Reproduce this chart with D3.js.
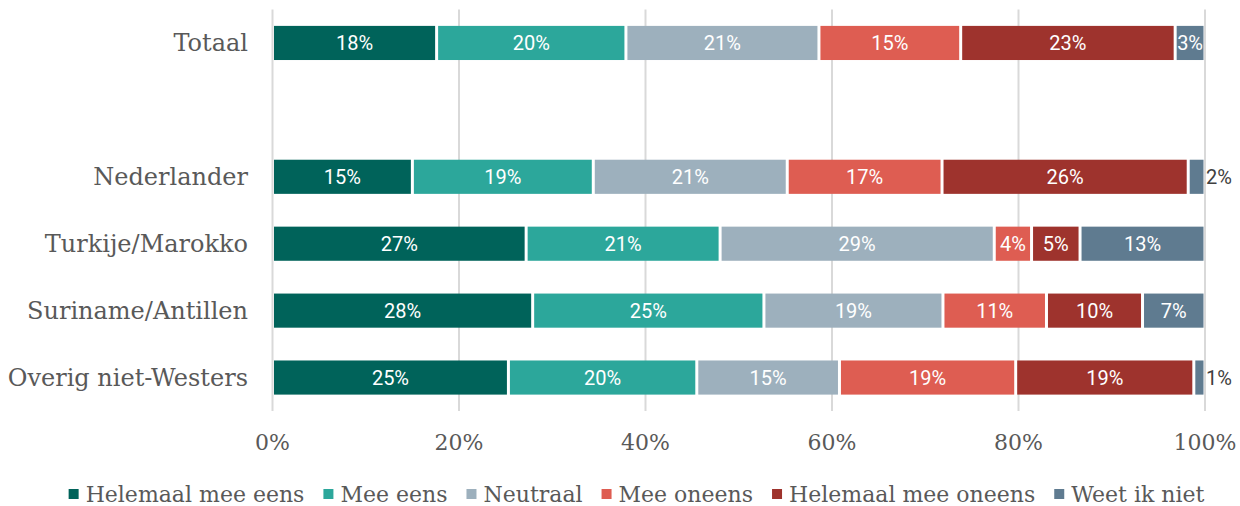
<!DOCTYPE html>
<html>
<head>
<meta charset="utf-8">
<script src="https://cdn.jsdelivr.net/npm/d3@7"></script>
<style>
  body { margin: 0; background: #fff; }
  svg text { fill: #595959; }
</style>
</head>
<body>
<svg id="chart" width="1240" height="506"></svg>
<script>
// data (share of each answer, in %)
var groups = ["Totaal", "", "Nederlander", "Turkije/Marokko", "Suriname/Antillen", "Overig niet-Westers"];
var answers = ["Helemaal mee eens", "Mee eens", "Neutraal", "Mee oneens", "Helemaal mee oneens", "Weet ik niet"];
var colors = ["#00635a", "#2ca79b", "#9db0bd", "#de5d52", "#9e332d", "#5f7b90"];

var totaal      = [17.6, 20.3, 20.7, 15.2, 23.0, 3.2];
var nederlander = [15.0, 19.4, 20.8, 16.6, 26.4, 1.8];
var turkije     = [27.2, 20.8, 29.4, 4.0, 5.2, 13.4];
var suriname    = [27.9, 24.8, 19.2, 11.1, 10.3, 6.7];
var overig      = [25.3, 20.2, 15.3, 18.9, 19.1, 1.2];

var ticks = [0, 20, 40, 60, 80, 100];

var rows = [
  { group: "Totaal", vals: totaal },
  { group: "Nederlander", vals: nederlander },
  { group: "Turkije/Marokko", vals: turkije },
  { group: "Suriname/Antillen", vals: suriname },
  { group: "Overig niet-Westers", vals: overig }
];

var serif = "'DejaVu Serif', serif";
var sans = "Roboto, sans-serif";

var svg = d3.select("#chart");

var x = d3.scaleLinear().domain([0, 100]).range([272.5, 1205]);
var y = d3.scaleBand().domain(groups).range([9.5, 411])
    .paddingInner(0.49).paddingOuter(0.245);

// gridlines
svg.append("g").selectAll("line")
    .data(ticks)
  .enter().append("line")
    .attr("x1", function(d) { return x(d); })
    .attr("x2", function(d) { return x(d); })
    .attr("y1", 9.5)
    .attr("y2", 411)
    .attr("stroke", "#d9d9d9")
    .attr("stroke-width", 2);

// x tick labels
svg.append("g").selectAll("text")
    .data(ticks)
  .enter().append("text")
    .attr("x", function(d) { return x(d); })
    .attr("y", 450)
    .attr("text-anchor", "middle")
    .style("font-family", serif)
    .style("font-size", "22px")
    .text(function(d) { return d + "%"; });

// y labels
svg.append("g").selectAll("text")
    .data(groups.filter(function(d) { return d !== ""; }))
  .enter().append("text")
    .attr("x", 248)
    .attr("y", function(d) { return y(d) + y.bandwidth() / 2; })
    .attr("dy", "0.35em")
    .attr("text-anchor", "end")
    .style("font-family", serif)
    .style("font-size", "24px")
    .text(function(d) { return d; });

// stacked segments
var segs = [];
rows.forEach(function(r) {
  var start = 0;
  r.vals.forEach(function(v, i) {
    segs.push({ group: r.group, i: i, x0: start, x1: start + v, v: v });
    start += v;
  });
});

var bars = svg.append("g");
bars.selectAll("rect")
    .data(segs)
  .enter().append("rect")
    .attr("x", function(d) { return x(d.x0) + 1.5; })
    .attr("y", function(d) { return y(d.group); })
    .attr("width", function(d) { return Math.max(0, x(d.x1) - x(d.x0) - 3); })
    .attr("height", y.bandwidth())
    .attr("fill", function(d) { return colors[d.i]; });

bars.selectAll("text")
    .data(segs)
  .enter().append("text")
    .each(function(d) {
      var w = x(d.x1) - x(d.x0);
      var inside = w > 28;
      d3.select(this)
        .attr("x", inside ? (x(d.x0) + x(d.x1)) / 2 : x(d.x1) + 1)
        .attr("text-anchor", inside ? "middle" : "start")
        .style("fill", inside ? "#fff" : "#404040");
    })
    .attr("y", function(d) { return y(d.group) + y.bandwidth() / 2; })
    .attr("dy", "0.36em")
    .style("font-family", sans)
    .style("font-size", "20px")
    .text(function(d) { return Math.round(d.v) + "%"; });

// legend
var legend = svg.append("g");
var items = legend.selectAll("g")
    .data(answers)
  .enter().append("g");
items.append("rect")
    .attr("width", 10)
    .attr("height", 10)
    .attr("y", 489)
    .attr("fill", function(d, i) { return colors[i]; });
items.append("text")
    .attr("x", 17)
    .attr("y", 502)
    .style("font-family", serif)
    .style("font-size", "22px")
    .text(function(d) { return d; });

var gap = 19;
var pos = 0, offs = [];
items.each(function() {
  offs.push(pos);
  pos += 17 + d3.select(this).select("text").node().getComputedTextLength() + gap;
});
var total = pos - gap;
var lx = 636.5 - total / 2;
items.attr("transform", function(d, i) { return "translate(" + (lx + offs[i]) + ",0)"; });
</script>
</body>
</html>
